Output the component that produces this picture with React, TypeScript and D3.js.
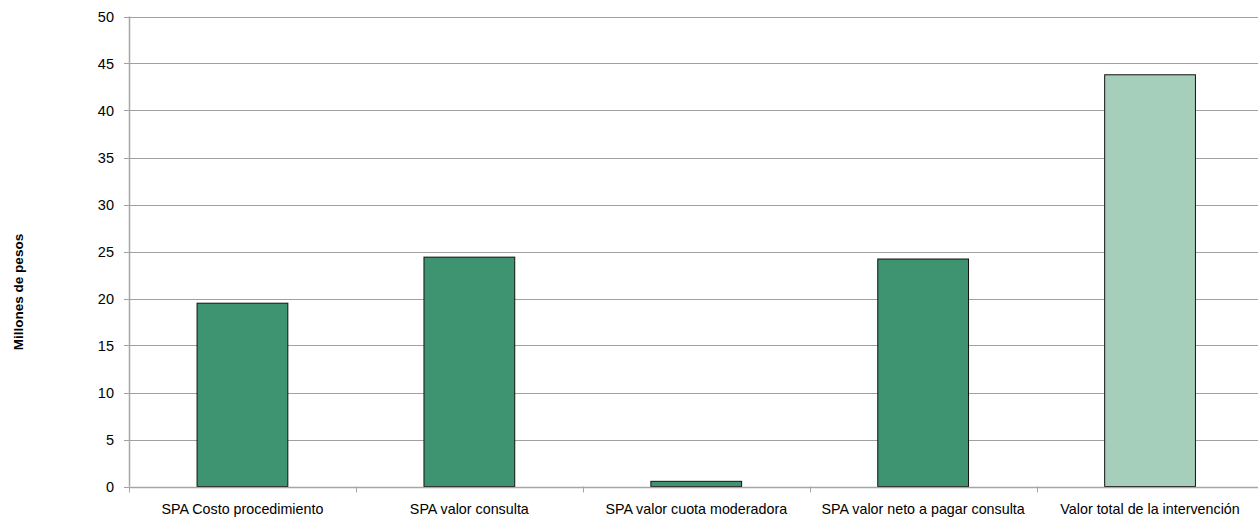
import React from "react";
import * as d3 from "d3";

const categories = [
  "SPA Costo procedimiento",
  "SPA valor consulta",
  "SPA valor cuota moderadora",
  "SPA valor neto a pagar consulta",
  "Valor total de la intervención",
];
const values = [19.5, 24.4, 0.55, 24.2, 43.8];
const barColors = ["#3E9371", "#3E9371", "#3E9371", "#3E9371", "#A5CEBB"];
const yTicks = [0, 5, 10, 15, 20, 25, 30, 35, 40, 45, 50];
const yTitle = "Millones de pesos";

const W = 1258;
const H = 520;
const left = 129;
const right = 1263.5;
const top = 16.5;
const bottom = 486.5;

export default function App() {
  const x = d3.scaleBand<string>().domain(categories).range([left, right]).paddingInner(0.6).paddingOuter(0.3);
  const xb = d3.scaleBand<string>().domain(categories).range([left, right]);
  const y = d3.scaleLinear().domain([0, 50]).range([bottom, top]);
  const font = "'Liberation Sans', Arial, sans-serif";
  return (
    <svg width={W} height={H} style={{ position: "absolute", left: 0, top: 0, background: "#fff" }} fontFamily={font}>
      {yTicks.map((t) => (
        <g key={t}>
          {t > 0 && (
            <line x1={left} x2={W} y1={Math.round(y(t)) + 0.5} y2={Math.round(y(t)) + 0.5} stroke="#A0A0A0" strokeWidth={1} />
          )}
          <line x1={left - 5} x2={left} y1={Math.round(y(t)) + 0.5} y2={Math.round(y(t)) + 0.5} stroke="#A0A0A0" strokeWidth={1} />
          <text x={114} y={y(t) + 5.3} textAnchor="end" fontSize={14.5} fill="#000">
            {t}
          </text>
        </g>
      ))}
      {categories.map((c, i) => (
        <rect
          key={c}
          x={x(c)!}
          y={y(values[i])}
          width={x.bandwidth()}
          height={bottom - y(values[i])}
          fill={barColors[i]}
          stroke="#111"
          strokeWidth={1}
        />
      ))}
      <line x1={left + 0.5} x2={left + 0.5} y1={top} y2={bottom} stroke="#A6A6A6" strokeWidth={1.5} />
      <line x1={left} x2={W} y1={Math.round(bottom) + 0.5} y2={Math.round(bottom) + 0.5} stroke="#A6A6A6" strokeWidth={1.5} />
      {categories.map((c) => (
        <line
          key={"t" + c}
          x1={Math.round(xb(c)!) + 0.5}
          x2={Math.round(xb(c)!) + 0.5}
          y1={bottom}
          y2={bottom + 6}
          stroke="#A6A6A6"
          strokeWidth={1}
        />
      ))}
      {categories.map((c) => (
        <text key={"l" + c} x={xb(c)! + xb.bandwidth() / 2} y={514} textAnchor="middle" fontSize={14.3} fill="#000">
          {c}
        </text>
      ))}
      <text
        transform={`translate(18,292) rotate(-90)`}
        textAnchor="middle"
        dy="0.35em"
        fontSize={13.5}
        fontWeight="bold"
        fill="#000"
      >
        {yTitle}
      </text>
    </svg>
  );
}
